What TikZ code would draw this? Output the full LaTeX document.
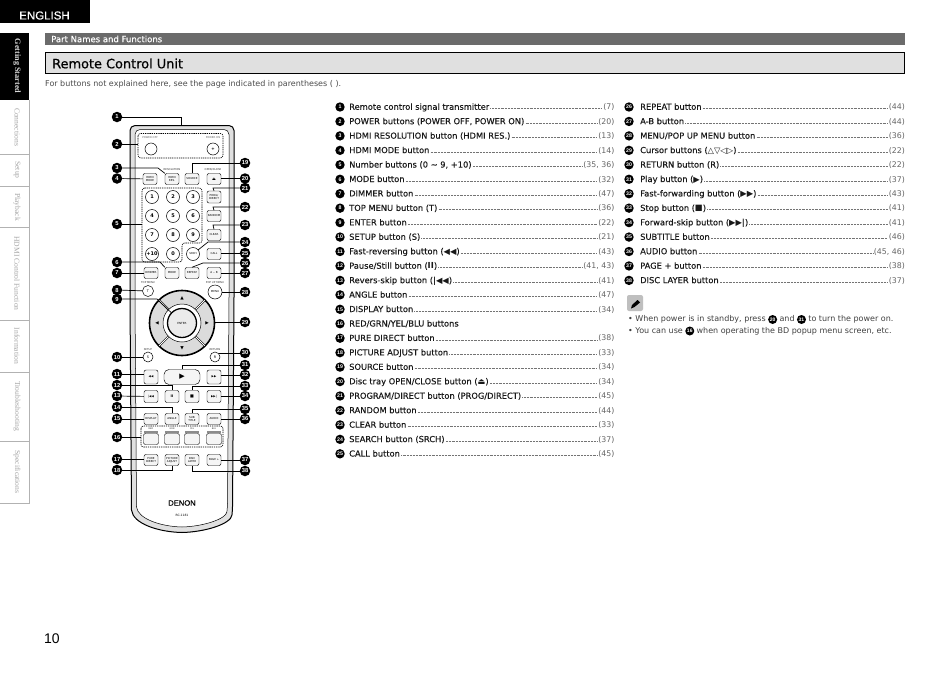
\documentclass[tikz,border=0pt]{standalone}
\usepackage{fontspec}
\setmainfont{DejaVu Sans}
\newfontfamily\lsans{Liberation Sans}
\newfontfamily\lserif{Liberation Serif}
\newfontfamily\bsans[FakeBold=0.25]{DejaVu Sans}
\newfontfamily\tsans[FakeBold=0.6]{DejaVu Sans}
\newfontfamily\dsans[FakeBold=0.5]{Liberation Sans}
\newfontfamily\sym{DejaVu Sans}
\newcommand\fs[1]{\fontsize{#1}{#1}\selectfont}
\definecolor{ink}{gray}{0.1}
\tikzset{
  x=1pt,y=-1pt,
  num/.style={circle,fill=black,text=white,inner sep=0pt,minimum size=10.5pt,font=\lsans\bfseries\fs{5.8}},
  numsm/.style={num,minimum size=9.4pt,font=\lsans\bfseries\fs{5.2}},
  itemtext/.style={anchor=west,inner sep=0pt,text height=6pt,text depth=1.5pt,text=ink,font=\bsans\fs{8.3}},
  pagetext/.style={anchor=east,inner sep=0pt,text height=6pt,text depth=1.5pt,text=black!60,font=\sym\fs{7.8}},
  leader/.style={line width=.4pt,black!55,dash pattern=on .45pt off 1pt},
  btn/.style={draw,rounded corners=2pt,line width=.45pt,fill=black!4,inner sep=0pt,minimum width=14pt,minimum height=11pt,align=center,font=\sym\fs{2.7}},
  rnd/.style={draw,circle,line width=.5pt,fill=white,inner sep=0pt,minimum size=13pt,font=\sym\bfseries\fs{5}},
  tiny/.style={inner sep=0pt,font=\sym\fs{2.6},text=black!80},
  conn/.style={line width=.7pt},
  dashbox/.style={line width=.6pt,dash pattern=on 1.3pt off .9pt,rounded corners=2.5pt},
  tabtxt/.style={rotate=-90,inner sep=0pt,text=black!35,font=\lserif\fs{7.6}},
}
\newcommand\lrow[3]{%
  \node[numsm] (n#1) at (340,{107+(#1-1)*14.45}) {#1};
  \node[itemtext] (t#1) at (349,{107.5+(#1-1)*14.45}) {#2};
  \node[pagetext] (p#1) at (614.5,{107.5+(#1-1)*14.45}) {#3};
  \draw[leader] ([xshift=1pt,yshift=-1pt]t#1.east) -- ([xshift=-1pt,yshift=-1pt]p#1.west);
}
\newcommand\rrow[3]{%
  \node[numsm] (n#1x) at (629,{107+(#1-26)*14.45}) {#1};
  \node[itemtext] (t#1) at (640,{107.5+(#1-26)*14.45}) {#2};
  \node[pagetext] (p#1) at (905,{107.5+(#1-26)*14.45}) {#3};
  \draw[leader] ([xshift=1pt,yshift=-1pt]t#1.east) -- ([xshift=-1pt,yshift=-1pt]p#1.west);
}
\begin{document}
\begin{tikzpicture}
\useasboundingbox (0,0) rectangle (950,672);
\fill[white] (0,0) rectangle (950,672);
% header
\fill[black] (0,0) rectangle (89.5,23);
\node[text=white,font=\dsans\fs{11.5},inner sep=0pt] (lang) at (44.5,15.5) {ENGLISH};
\fill[black] (0,33) rectangle (29,100);
\node[rotate=-90,inner sep=0pt,text=black!15,font=\lserif\bfseries\fs{8.2}] (tab0) at (17,66) {Getting Started};
\draw[black!30,line width=.5pt] (29,100) -- (29,503) -- (0,503);
\foreach \yy in {154,186,227,320,372,441}{\draw[black!30,line width=.5pt] (0,\yy) -- (29,\yy);}
\node[tabtxt] (tab1) at (17,127) {Connections};
\node[tabtxt] (tab2) at (17,170) {Setup};
\node[tabtxt] (tab3) at (17,207) {Playback};
\node[tabtxt] (tab4) at (17,273.5) {HDMI Control Function};
\node[tabtxt] (tab5) at (17,346) {Information};
\node[tabtxt] (tab6) at (17,406) {Troubleshooting};
\node[tabtxt] (tab7) at (17,472) {Specifications};
% title bars
\fill[black!58] (45,33) rectangle (905,45);
\node[anchor=west,inner sep=0pt,text=white,font=\bsans\fs{8.5}] (sec) at (51,39) {Part Names and Functions};
\draw[fill=black!12,line width=.9pt] (45.5,52.5) rectangle (904.5,73.5);
\node[anchor=west,inner sep=0pt,text=black,font=\tsans\fs{12.9}] (ttl) at (52,63.5) {Remote Control Unit};
\node[anchor=west,inner sep=0pt,text=black!70,font=\sym\fs{8}] (intro) at (45,84) {For buttons not explained here, see the page indicated in parentheses ( ).};
\node[anchor=west,inner sep=0pt,font=\lsans\fs{14}] (pg) at (44,639) {10};
% remote body
\path[draw=black,line width=1pt,fill=black!12,rounded corners=5pt]
  (130,125.5) -- (234,125.5) -- (234,300) -- (232.5,510)
  [rounded corners=0pt] .. controls (231,524) and (205,532) .. (182,532.5)
  .. controls (159,532) and (133,524) .. (131.5,510) -- (130,300) [rounded corners=5pt] -- cycle;
\path[draw=black,line width=.5pt,fill=white,rounded corners=5pt]
  (135,129.5) -- (229,129.5) -- (229,300) -- (227.5,507)
  [rounded corners=0pt] .. controls (226,519) and (203,526.5) .. (182,527)
  .. controls (161,526.5) and (138,519) .. (136.5,507) -- (135,300) [rounded corners=5pt] -- cycle;
\coordinate (bodytop) at (181,125.5);
% power
\draw[dashbox] (138,133.5) rectangle (223,158);
\node[tiny,text=black!60] (lpoff) at (150,138) {POWER OFF};
\node[tiny,text=black!60] (lpon) at (213,138) {POWER ON};
\node[rnd,minimum size=12pt] (poff) at (151,149) {};
\node[rnd,minimum size=12pt] (pon) at (213,149) {\fs{4}+};
\coordinate (powerbox) at (138,144);
% row 1
\node[tiny] (lres) at (172,170) {RESOLUTION};
\node[tiny] (lopen) at (213,170) {OPEN/CLOSE};
\node[btn] (hmode) at (150,179) {HDMI\\MODE};
\node[btn] (hres) at (172,179) {HDMI\\RES.};
\node[btn] (source) at (192,179) {SOURCE};
\node[btn] (open) at (214,179) {\fs{4}⏏};
% numbers
\draw[dashbox] (142,188) -- (202,188) -- (202,243) -- (182,243) -- (182,262) -- (142,262) -- cycle;
\coordinate (numbox) at (142,224);
\foreach \nm/\lab/\xx/\yy in {k1/1/152/197,k2/2/173/197,k3/3/193/197,k4/4/152/216,k5/5/173/216,k6/6/193/216,k7/7/152/235,k8/8/173/235,k9/9/193/235,k10/+10/152/254,k0/0/173/254}{
  \node[rnd] (\nm) at (\xx,\yy) {\lab};
}
\node[rnd,font=\sym\fs{2.7}] (srch) at (193,254) {SRCH};
\node[btn,minimum height=12pt] (prog) at (214,197) {PROG/\\DIRECT};
\node[btn] (random) at (214,216) {RANDOM};
\node[btn] (clear) at (214,235) {CLEAR};
\node[btn] (call) at (214,254) {CALL};
% row mode
\node[btn] (dimmer) at (151,273) {DIMMER};
\node[btn] (mode) at (172,273) {MODE};
\node[btn] (repeat) at (192,273) {REPEAT};
\node[btn] (ab) at (214,273) {A -- B};
% menu
\node[tiny] (ltop) at (148,283) {TOP MENU};
\node[tiny] (lpop) at (215,283) {POP UP MENU};
\node[rnd,minimum size=11pt,font=\sym\fs{3.4}] (top) at (148,291) {T};
\node[rnd,minimum size=14pt,font=\sym\fs{2.7}] (menu) at (215,292) {MENU};
% wheel
\node[draw=black,circle,line width=1.6pt,fill=black!14,minimum size=65pt,inner sep=0pt] (wheel) at (182,323) {};
\foreach \ang in {45,135,225,315}{
  \draw[line width=1.8pt,black] (wheel.center) ++(\ang:17) -- ++(\ang:15);
  \draw[line width=1pt,white] (wheel.center) ++(\ang:17) -- ++(\ang:15);
}
\node[circle,draw=black,line width=.5pt,fill=white,minimum size=38pt,inner sep=0pt] (ring) at (182,323) {};
\node[circle,draw=black,line width=1.3pt,fill=black!8,minimum size=29pt,inner sep=0pt,font=\sym\fs{2.8}] (enter) at (182,323) {ENTER};
\node[inner sep=0pt,font=\sym\fs{4.5}] (au) at (182,298) {▲};
\node[inner sep=0pt,font=\sym\fs{4.5}] (ad) at (182,348) {▼};
\node[inner sep=0pt,font=\sym\fs{4.5}] (al) at (157,323) {◀};
\node[inner sep=0pt,font=\sym\fs{4.5}] (ar) at (207,323) {▶};
% setup / return
\node[tiny] (lsetup) at (148,350) {SETUP};
\node[tiny] (lret) at (215,350) {RETURN};
\node[rnd,minimum size=10pt,font=\sym\fs{3.4}] (setup) at (148,357) {S};
\node[rnd,minimum size=10pt,font=\sym\fs{3.4}] (ret) at (215,357) {R};
% transport
\node[btn,minimum height=14pt,font=\sym\fs{3}] (rew) at (151,377) {◀◀};
\node[btn,minimum width=36pt,minimum height=15pt,rounded corners=5pt,font=\sym\fs{7}] (play) at (182,377) {▶};
\node[btn,minimum height=14pt,font=\sym\fs{3}] (ff) at (214,377) {▶▶};
\node[btn,minimum height=12pt,font=\sym\fs{3}] (prev) at (151,396.5) {|◀◀};
\node[btn,minimum height=12pt,font=\sym\bfseries\fs{3.5}] (pause) at (172,396.5) {II};
\node[btn,minimum height=12pt,font=\sym\fs{4}] (stop) at (192,396.5) {■};
\node[btn,minimum height=12pt,font=\sym\fs{3}] (next) at (214,396.5) {▶▶|};
% display row
\node[btn] (display) at (151,419) {DISPLAY};
\node[btn] (angle) at (172,419) {ANGLE};
\node[btn] (sub) at (192,419) {SUB\\TITLE};
\node[btn] (audio) at (214,419) {AUDIO};
% colours
\draw[dashbox] (141,426) rectangle (223,447);
\coordinate (colbox) at (141,437);
\foreach \nm/\lab/\xx in {cr/RED/151,cg/GRN/172,cy/YEL/192,cb/BLU/214}{
  \node[tiny,font=\sym\fs{2.2}] (l\nm) at (\xx,428.5) {\lab};
  \fill[black!45] (\xx-7,430.5) rectangle (\xx+7,432.5);
  \node[btn,minimum width=15pt,minimum height=11pt] (\nm) at (\xx,439) {};
}
% bottom row
\node[btn] (pure) at (151,460) {PURE\\DIRECT};
\node[btn] (pict) at (172,460) {PICTURE\\ADJUST};
\node[btn] (disc) at (192,460) {DISC\\LAYER};
\node[btn] (page) at (214,460) {PAGE +};
\node[inner sep=0pt,font=\dsans\fs{7.6}] (denon) at (182,503) {DENON};
\node[inner sep=0pt,font=\sym\fs{3}] (model) at (182,515) {RC-1181};
% callouts left
\foreach \k/\yy in {1/117,2/144,3/168,4/178.5,5/224,6/262,7/273,8/290,9/299,10/357,11/374,12/385,13/396,14/407,15/419,16/437,17/459,18/470}{
  \node[num] (c\k) at (117,\yy) {\k};
}
\foreach \k/\yy in {19/163,20/178.5,21/188,22/207,23/225,24/242,25/253,26/263,27/273,28/292,29/322,30/353,31/365,32/375,33/386,34/396,35/409,36/419,37/460,38/471}{
  \node[num] (c\k) at (245,\yy) {\k};
}
\begin{scope}[conn]
\draw (c1) -| (bodytop);
\draw (c2) -- (powerbox);
\draw (c3) -- (158,168) -- (hres.north west);
\draw (c4) -- (hmode);
\draw (c5) -- (numbox);
\draw (c6) -- (160,262) -- (mode.north west);
\draw (c7) -- (dimmer);
\draw (c8) -- (top);
\draw (c9) -- (157,299) -- (enter);
\draw (c10) -- (setup);
\draw (c11) -- (rew.west |- c11);
\draw (c12) -| (pause.north);
\draw (c13) -- (prev);
\draw (c14) -| (angle.north);
\draw (c15) -- (display);
\draw (c16) -- (colbox);
\draw (c17) -- (pure.west |- c17);
\draw (c18) -| (pict.south);
\draw (c19) -| (source.north);
\draw (c20) -- (open.east |- c20);
\draw (c21) -- (213,188) -- (prog.north);
\draw (c22) -- (213,207) -- (random.north);
\draw (c23) -- (213,225) -- (clear.north);
\draw (c24) -- (208,242) -- (srch);
\draw (c25) -- (call.east |- c25);
\draw (c26) -- (203,263) -- (repeat.north);
\draw (c27) -- (ab);
\draw (c28) -- (menu);
\draw (c29) -- (wheel.east |- c29);
\draw (c30) -- (ret.north east |- c30);
\draw (c31) -| (play.north);
\draw (c32) -- (ff.east |- c32);
\draw (c33) -| (stop.north);
\draw (c34) -- (next.east |- c34);
\draw (c35) -| (sub.north);
\draw (c36) -- (audio);
\draw (c37) -- (page);
\draw (c38) -| (disc.south);
\end{scope}
% list left
\lrow{1}{Remote control signal transmitter}{(7)}
\lrow{2}{POWER buttons (POWER OFF, POWER ON)}{(20)}
\lrow{3}{HDMI RESOLUTION button (HDMI RES.)}{(13)}
\lrow{4}{HDMI MODE button}{(14)}
\lrow{5}{Number buttons (0 \textasciitilde\ 9, +10)}{(35, 36)}
\lrow{6}{MODE button}{(32)}
\lrow{7}{DIMMER button}{(47)}
\lrow{8}{TOP MENU button (T)}{(36)}
\lrow{9}{ENTER button}{(22)}
\lrow{10}{SETUP button (S)}{(21)}
\lrow{11}{Fast-reversing button ({\sym ◀◀})}{(43)}
\lrow{12}{Pause/Still button ({\sym\bfseries II})}{(41, 43)}
\lrow{13}{Revers-skip button ({\sym\bfseries|}{\sym ◀◀})}{(41)}
\lrow{14}{ANGLE button}{(47)}
\lrow{15}{DISPLAY button}{(34)}
\node[numsm] (n16) at (340,{107+15*14.45}) {16};
\node[itemtext] (t16) at (349,{107.5+15*14.45}) {RED/GRN/YEL/BLU buttons};
\lrow{17}{PURE DIRECT button}{(38)}
\lrow{18}{PICTURE ADJUST button}{(33)}
\lrow{19}{SOURCE button}{(34)}
\lrow{20}{Disc tray OPEN/CLOSE button ({\sym ⏏})}{(34)}
\lrow{21}{PROGRAM/DIRECT button (PROG/DIRECT)}{(45)}
\lrow{22}{RANDOM button}{(44)}
\lrow{23}{CLEAR button}{(33)}
\lrow{24}{SEARCH button (SRCH)}{(37)}
\lrow{25}{CALL button}{(45)}
% list right
\rrow{26}{REPEAT button}{(44)}
\rrow{27}{A-B button}{(44)}
\rrow{28}{MENU/POP UP MENU button}{(36)}
\rrow{29}{Cursor buttons ({\sym △▽◁▷})}{(22)}
\rrow{30}{RETURN button (R)}{(22)}
\rrow{31}{Play button ({\sym ▶})}{(37)}
\rrow{32}{Fast-forwarding button ({\sym ▶▶})}{(43)}
\rrow{33}{Stop button ({\sym ■})}{(41)}
\rrow{34}{Forward-skip button ({\sym ▶▶}{\sym\bfseries|})}{(41)}
\rrow{35}{SUBTITLE button}{(46)}
\rrow{36}{AUDIO button}{(45, 46)}
\rrow{37}{PAGE + button}{(38)}
\rrow{38}{DISC LAYER button}{(37)}
% note
\fill[black!25,rounded corners=2pt] (627,295) rectangle (643,311);
\fill[black] (631,308.5) -- (632,305) -- (637.5,300) -- (640,302.5) -- (634.5,307) -- cycle;
\tikzset{notetxt/.style={anchor=west,inner sep=0pt,text height=6pt,text depth=1.5pt,text=black!75,font=\sym\fs{8}},notenum/.style={numsm,anchor=west,minimum size=9pt,font=\lsans\bfseries\fs{5}}}
\node[notetxt] (a1) at (628,319.5) {• When power is in standby, press};
\node[notenum] (a2) at ([xshift=2pt]a1.east) {20};
\node[notetxt] (a3) at ([xshift=2pt]a2.east) {and};
\node[notenum] (a4) at ([xshift=2pt]a3.east) {31};
\node[notetxt] (a5) at ([xshift=2pt]a4.east) {to turn the power on.};
\node[notetxt] (b1) at (628,331) {• You can use};
\node[notenum] (b2) at ([xshift=2pt]b1.east) {16};
\node[notetxt] (b3) at ([xshift=2pt]b2.east) {when operating the BD popup menu screen, etc.};
\end{tikzpicture}
\end{document}
